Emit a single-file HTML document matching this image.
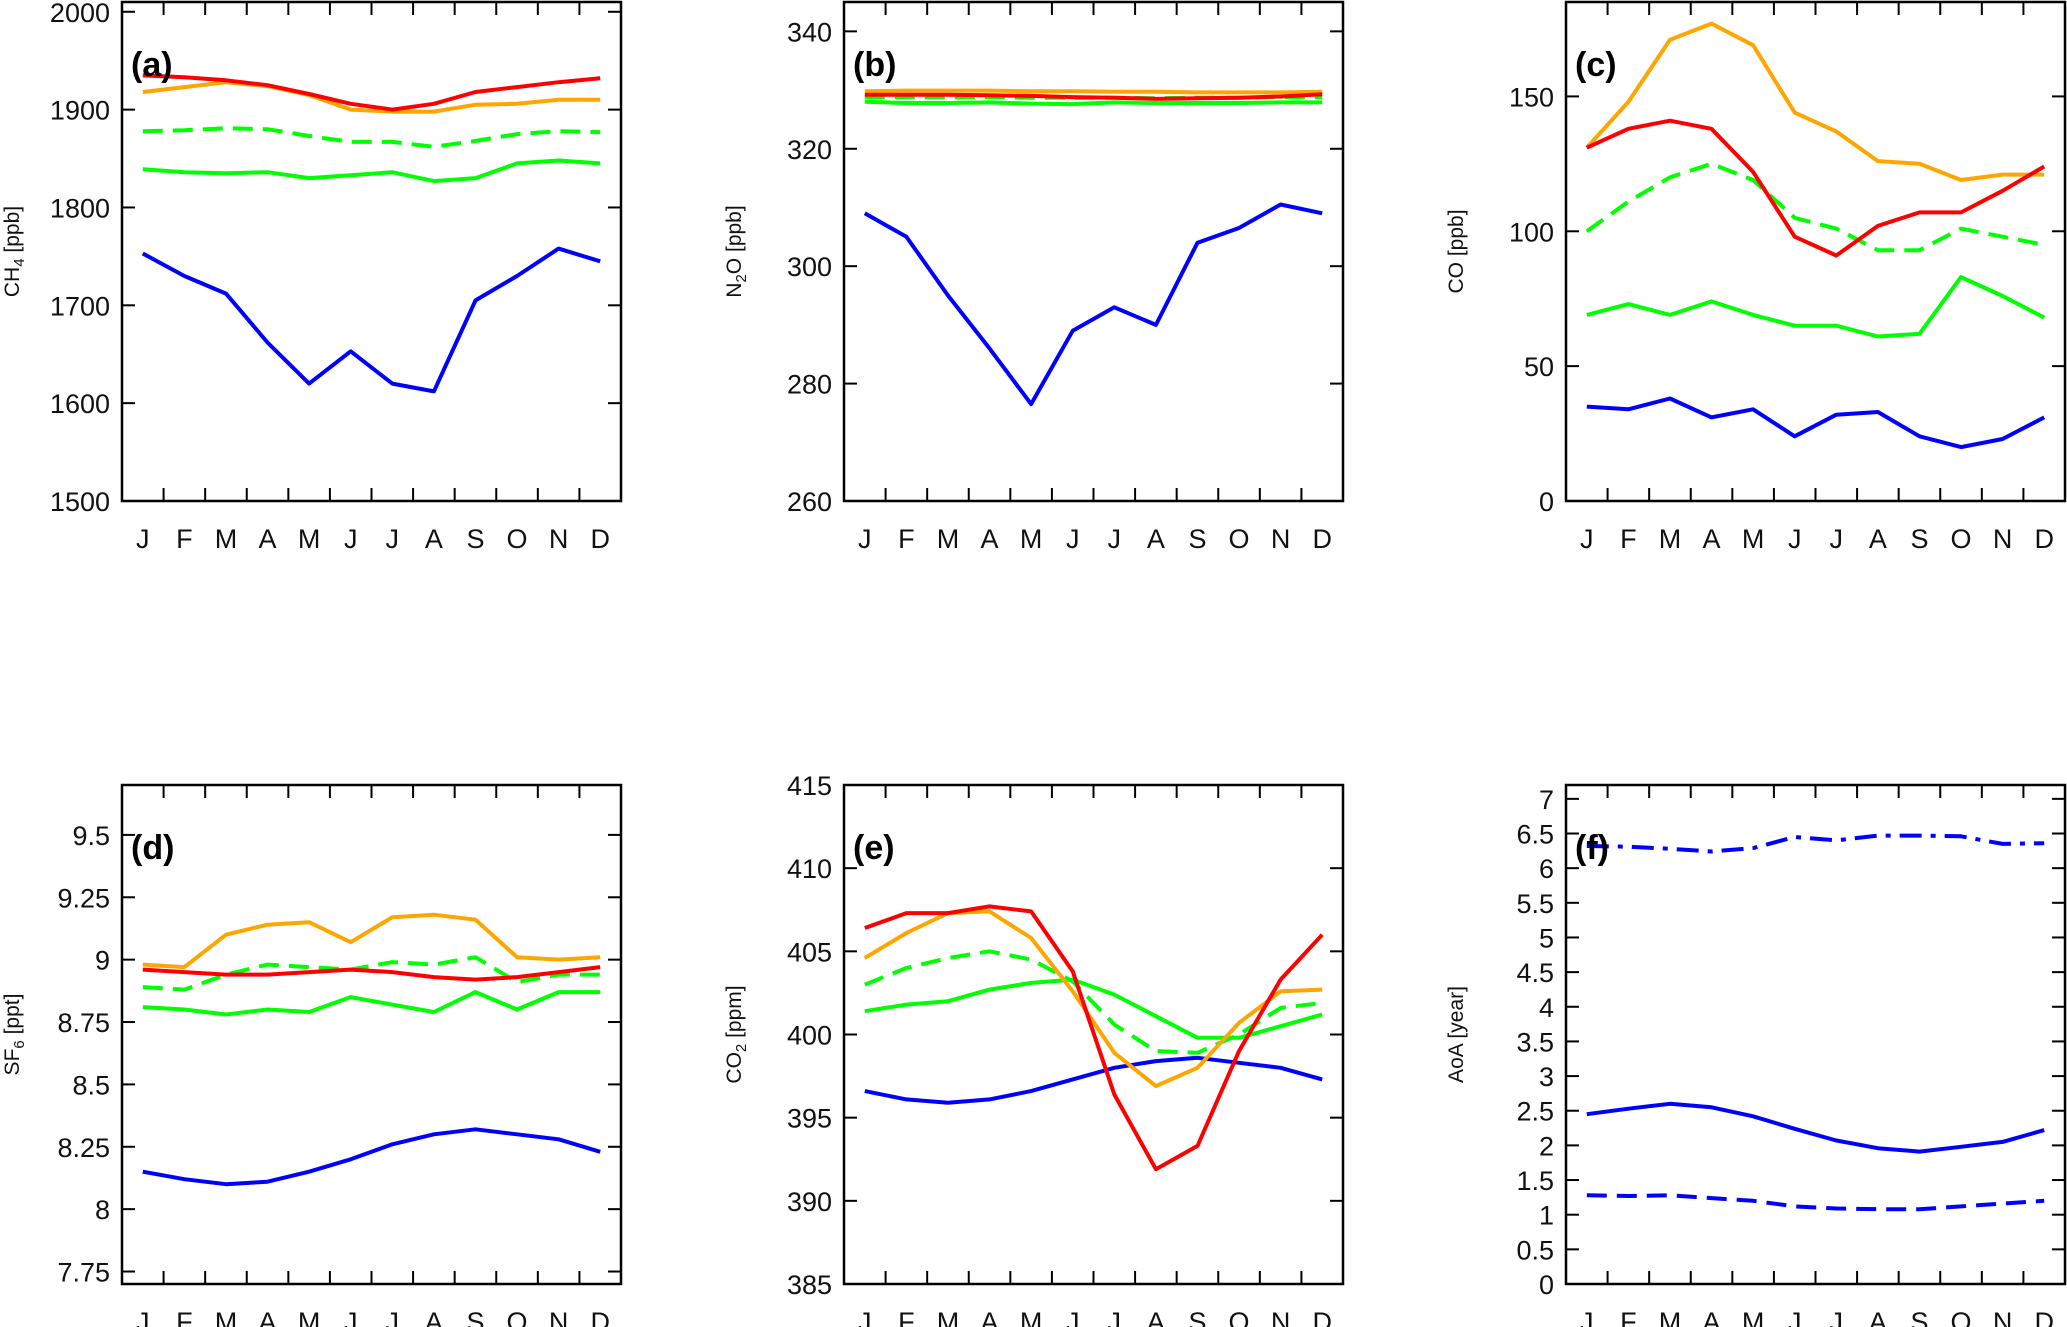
<!DOCTYPE html>
<html><head><meta charset="utf-8"><style>
html,body{margin:0;padding:0;background:#fff;}
svg{display:block;font-family:"Liberation Sans",sans-serif;}
</style></head><body>
<svg id="fig" width="2067" height="1327" viewBox="0 0 2067 1327" xmlns="http://www.w3.org/2000/svg"></svg>
<script>
const months=["J","F","M","A","M","J","J","A","S","O","N","D"];
// panel a: CH4
const aRed=[1935,1933,1930,1925,1916,1906,1900,1906,1918,1923,1928,1932];
const aOrange=[1918,1923,1928,1924,1915,1900,1898,1898,1905,1906,1910,1910];
const aGreenDash=[1878,1879,1881,1880,1873,1867,1867,1862,1868,1875,1878,1877];
const aGreen=[1839,1836,1835,1836,1830,1833,1836,1827,1830,1845,1848,1845];
const aBlue=[1753,1730,1712,1662,1620,1653,1620,1612,1705,1730,1758,1745];
const aTicks=[1500,1600,1700,1800,1900,2000];
// panel b: N2O
const bOrange=[329.8,329.9,329.9,329.9,329.8,329.8,329.7,329.7,329.6,329.6,329.6,329.7];
const bRed=[329.2,329.2,329.2,329.1,329.0,328.8,328.7,328.5,328.6,328.7,328.9,329.3];
const bGreenDash=[328.8,328.8,328.8,328.8,328.7,328.7,328.7,328.6,328.7,328.7,328.8,328.8];
const bGreen=[328.0,327.8,327.8,327.9,327.7,327.6,327.9,327.8,327.8,327.8,327.9,327.9];
const bBlue=[309,305,295,286,276.5,289,293,290,304,306.5,310.5,309];
const bTicks=[260,280,300,320,340];
// panel c: CO
const cOrange=[131,148,171,177,169,144,137,126,125,119,121,121];
const cRed=[131,138,141,138,122,98,91,102,107,107,115,124];
const cGreenDash=[100,111,120,125,119,105,101,93,93,101,98,95];
const cGreen=[69,73,69,74,69,65,65,61,62,83,76,68];
const cBlue=[35,34,38,31,34,24,32,33,24,20,23,31];
const cTicks=[0,50,100,150];
// panel d: SF6
const dOrange=[8.98,8.97,9.10,9.14,9.15,9.07,9.17,9.18,9.16,9.01,9.00,9.01];
const dRed=[8.96,8.95,8.94,8.94,8.95,8.96,8.95,8.93,8.92,8.93,8.95,8.97];
const dGreenDash=[8.89,8.88,8.94,8.98,8.97,8.96,8.99,8.98,9.01,8.91,8.94,8.94];
const dGreen=[8.81,8.80,8.78,8.80,8.79,8.85,8.82,8.79,8.87,8.80,8.87,8.87];
const dBlue=[8.15,8.12,8.10,8.11,8.15,8.20,8.26,8.30,8.32,8.30,8.28,8.23];
const dTicks=[7.75,8,8.25,8.5,8.75,9,9.25,9.5];
const dTickLabels=["7.75","8","8.25","8.5","8.75","9","9.25","9.5"];
// panel e: CO2
const eRed=[406.4,407.3,407.3,407.7,407.4,403.8,396.4,391.9,393.3,399,403.3,406];
const eOrange=[404.6,406.1,407.3,407.4,405.8,402.6,398.9,396.9,398,400.7,402.6,402.7];
const eGreenDash=[403,404,404.6,405,404.5,403.2,400.6,399,398.9,400,401.6,401.9];
const eGreen=[401.4,401.8,402,402.7,403.1,403.3,402.4,401.1,399.8,399.8,400.5,401.2];
const eBlue=[396.6,396.1,395.9,396.1,396.6,397.3,398,398.4,398.6,398.3,398,397.3];
const eTicks=[385,390,395,400,405,410,415];
// panel f: AoA
const fDashDot=[6.32,6.31,6.28,6.24,6.29,6.45,6.40,6.47,6.47,6.46,6.35,6.36];
const fSolid=[2.45,2.53,2.60,2.55,2.42,2.24,2.07,1.96,1.91,1.98,2.05,2.22];
const fDashed=[1.28,1.27,1.28,1.24,1.20,1.12,1.09,1.08,1.08,1.12,1.16,1.20];
const fTicks=[0,0.5,1,1.5,2,2.5,3,3.5,4,4.5,5,5.5,6,6.5,7];

const NS="http://www.w3.org/2000/svg";
const svg=document.getElementById('fig');
function mk(tag,attrs,parent){const e=document.createElementNS(NS,tag);for(const k in attrs)e.setAttribute(k,attrs[k]);(parent||svg).appendChild(e);return e;}
const RED="#ff0000",ORG="#ffa500",GRN="#00ff00",BLU="#0000ff";
const DASH="20,10",DASHDOT="22,9,5,9";

function panel(o){
  const g=mk('g',{});
  
  
  const L=o.x,T=o.y,W=499,H=499;
  const sx=i=>L+W/12*(i+0.5);
  const sy=v=>T+H-(v-o.min)/(o.max-o.min)*H;
  o.series.forEach(s=>{
    const p=mk('polyline',{points:s.d.map((v,i)=>sx(i).toFixed(1)+','+sy(v).toFixed(1)).join(' '),fill:'none',stroke:s.c,'stroke-width':4,'stroke-linejoin':'round'},g);
    if(s.dash)p.setAttribute('stroke-dasharray',s.dash);
    
    
  });
  const fr=mk('rect',{x:L,y:T,width:W,height:H,fill:'none',stroke:'#000','stroke-width':2.5},g);
  
  
  for(let i=1;i<12;i++){
    const x=L+W/12*i;
    mk('line',{x1:x,y1:T,x2:x,y2:T+13,stroke:'#000','stroke-width':2},g);
    mk('line',{x1:x,y1:T+H,x2:x,y2:T+H-13,stroke:'#000','stroke-width':2},g);
  }
  months.forEach((m,i)=>{
    const t=mk('text',{x:sx(i),y:T+H+47,'font-size':27,'text-anchor':'middle',fill:'#111'},g);
    t.textContent=m;
    
    
  });
  o.ticks.forEach((v,k)=>{
    const y=sy(v);
    mk('line',{x1:L,y1:y,x2:L+13,y2:y,stroke:'#000','stroke-width':2},g);
    mk('line',{x1:L+W,y1:y,x2:L+W-13,y2:y,stroke:'#000','stroke-width':2},g);
    const t=mk('text',{x:L-12,y:y+10,'font-size':27,'text-anchor':'end',fill:'#111'},g);
    t.textContent=o.labels?o.labels[k]:String(v);
    
    
  });
  const cy=T+H/2;
  const yt=mk('text',{x:0,y:0,'font-size':21,'text-anchor':'middle',fill:'#111',transform:`translate(${L-103},${cy}) rotate(-90)`},g);
  yt.innerHTML=o.title;
  
  
  const pl=mk('text',{x:L+9,y:T+74,'font-size':34,'font-weight':'bold',fill:'#000'},g);
  pl.textContent='('+o.id+')';
  
  
}
const sub=s=>`<tspan font-size="15" dy="5">${s}</tspan><tspan dy="-5">`;
panel({id:'a',x:122,y:2,min:1500,max:2010,ticks:aTicks,title:'CH'+sub('4')+' [ppb]</tspan>',
  series:[{d:aBlue,c:BLU,n:'series-blue'},{d:aGreen,c:GRN,n:'series-green'},{d:aGreenDash,c:GRN,dash:DASH,n:'series-green-dashed'},{d:aOrange,c:ORG,n:'series-orange'},{d:aRed,c:RED,n:'series-red'}]});
panel({id:'b',x:844,y:2,min:260,max:345,ticks:bTicks,title:'N'+sub('2')+'O [ppb]</tspan>',
  series:[{d:bBlue,c:BLU,n:'series-blue'},{d:bGreen,c:GRN,n:'series-green'},{d:bGreenDash,c:GRN,dash:DASH,n:'series-green-dashed'},{d:bOrange,c:ORG,n:'series-orange'},{d:bRed,c:RED,n:'series-red'}]});
panel({id:'c',x:1566,y:2,min:0,max:185,ticks:cTicks,title:'CO [ppb]',
  series:[{d:cBlue,c:BLU,n:'series-blue'},{d:cGreen,c:GRN,n:'series-green'},{d:cGreenDash,c:GRN,dash:DASH,n:'series-green-dashed'},{d:cOrange,c:ORG,n:'series-orange'},{d:cRed,c:RED,n:'series-red'}]});
panel({id:'d',x:122,y:785,min:7.7,max:9.7,ticks:dTicks,labels:dTickLabels,title:'SF'+sub('6')+' [ppt]</tspan>',
  series:[{d:dBlue,c:BLU,n:'series-blue'},{d:dGreen,c:GRN,n:'series-green'},{d:dGreenDash,c:GRN,dash:DASH,n:'series-green-dashed'},{d:dOrange,c:ORG,n:'series-orange'},{d:dRed,c:RED,n:'series-red'}]});
panel({id:'e',x:844,y:785,min:385,max:415,ticks:eTicks,title:'CO'+sub('2')+' [ppm]</tspan>',
  series:[{d:eBlue,c:BLU,n:'series-blue'},{d:eGreen,c:GRN,n:'series-green'},{d:eGreenDash,c:GRN,dash:DASH,n:'series-green-dashed'},{d:eOrange,c:ORG,n:'series-orange'},{d:eRed,c:RED,n:'series-red'}]});
panel({id:'f',x:1566,y:785,min:0,max:7.2,ticks:fTicks,title:'AoA [year]',
  series:[{d:fDashDot,c:BLU,dash:DASHDOT,n:'series-aoa-dashdot'},{d:fSolid,c:BLU,n:'series-aoa-solid'},{d:fDashed,c:BLU,dash:DASH,n:'series-aoa-dashed'}]});
</script>
</body></html>
